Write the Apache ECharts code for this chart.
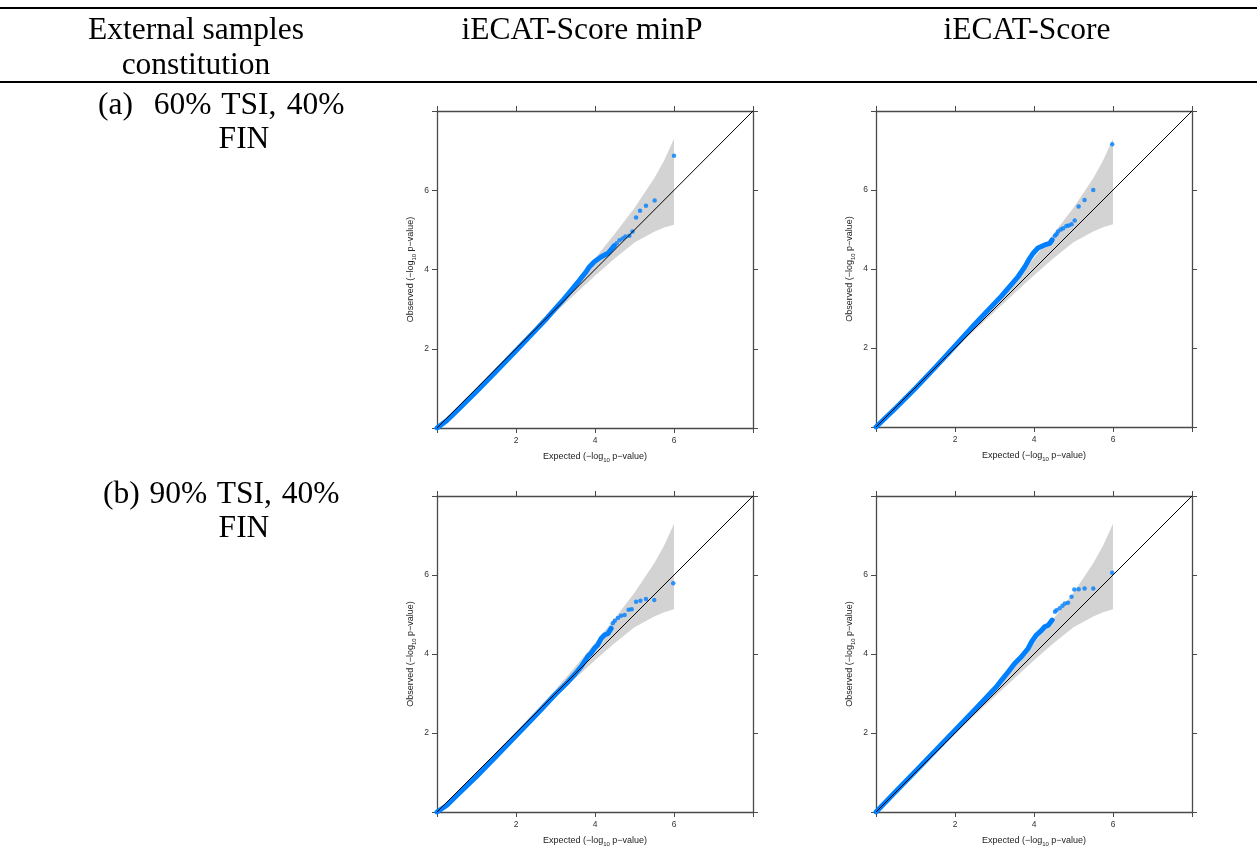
<!DOCTYPE html>
<html>
<head>
<meta charset="utf-8">
<title>QQ plots of iECAT-Score tests</title>
<script src="https://cdn.jsdelivr.net/npm/echarts@6/dist/echarts.min.js"></script>
<style>
  html, body { margin: 0; padding: 0; background: #fff; }
  #page { position: relative; width: 1257px; height: 853px; overflow: hidden; }
  #chart { position: absolute; left: 0; top: 0; width: 1257px; height: 853px; }
  .rule { position: absolute; left: 0; width: 1257px; height: 2px; background: #000; }
  .cell {
    position: absolute; white-space: pre; color: #000;
    font-family: "Liberation Serif", "Times New Roman", serif;
    font-size: 31.5px; line-height: 35px;
  }
  .center { text-align: center; }
</style>
</head>
<body>
<div id="page">
  <div id="chart"></div>
  <div class="rule" style="top:7px"></div>
  <div class="rule" style="top:81px"></div>
  <div class="cell center" style="left:46px; top:11px; width:300px">External samples<br>constitution</div>
  <div class="cell center" style="left:432px; top:11px; width:300px">iECAT-Score minP</div>
  <div class="cell center" style="left:877px; top:11px; width:300px">iECAT-Score</div>
  <div class="cell" style="left:98px; top:86px; word-spacing:2.5px">(a)  60% TSI, 40%</div>
  <div class="cell center" style="left:144px; top:120px; width:200px">FIN</div>
  <div class="cell" style="left:103px; top:475px; word-spacing:2px">(b) 90% TSI, 40%</div>
  <div class="cell center" style="left:144px; top:509px; width:200px">FIN</div>
</div>
<script>
// Axis ticks (both axes run 0..8, labels only on the inner ticks)
const axisTicks = [0, 2, 4, 6, 8];
const tickLabels = ['2', '4', '6'];

// 95% confidence band of the uniform QQ plot (shared by all panels)
const bandX  = [0, 1, 2, 2.5, 3, 3.5, 4, 4.5, 5, 5.5, 5.75, 6];
const bandLo = [0, 0.99, 1.97, 2.45, 2.92, 3.38, 3.84, 4.28, 4.68, 4.95, 5.06, 5.13];
const bandHi = [0, 1.01, 2.03, 2.56, 3.1, 3.68, 4.28, 4.9, 5.55, 6.3, 6.75, 7.3];

// (a) 60% TSI, 40% FIN — iECAT-Score minP
const obsA_minP = [[0,0],[0.25,0.19],[0.5,0.43],[1,0.92],[1.5,1.43],[2,1.95],[2.5,2.47],[2.8,2.79],[3,3.02],[3.2,3.24],[3.35,3.42],[3.5,3.6],[3.6,3.72],[3.7,3.85],[3.78,3.95],[3.86,4.07],[3.99,4.2],[4.16,4.32],[4.33,4.41],[4.49,4.6]];
const tailA_minP = [[4.55,4.66],[4.62,4.74],[4.7,4.78],[4.77,4.83],[4.87,4.85],[4.95,4.96],[5.04,5.31],[5.14,5.48],[5.29,5.61],[5.51,5.74],[6.0,6.87]];

// (a) 60% TSI, 40% FIN — iECAT-Score
const obsA_score = [[0,0],[0.5,0.48],[1,0.98],[1.5,1.51],[2,2.05],[2.5,2.6],[3,3.13],[3.18,3.32],[3.43,3.61],[3.6,3.81],[3.77,4.06],[3.89,4.27],[3.98,4.4],[4.1,4.53],[4.27,4.61],[4.4,4.65],[4.46,4.74]];
const tailA_score = [[4.53,4.84],[4.57,4.88],[4.61,4.95],[4.68,5.0],[4.74,5.03],[4.82,5.09],[4.88,5.1],[4.95,5.13],[5.03,5.23],[5.13,5.58],[5.28,5.75],[5.5,6.0],[5.98,7.16]];

// (b) 90% TSI, 40% FIN — iECAT-Score minP
const obsB_minP = [[0,0],[0.25,0.17],[0.5,0.42],[1,0.9],[1.5,1.41],[2,1.93],[2.5,2.45],[3,2.98],[3.32,3.3],[3.5,3.5],[3.65,3.68],[3.82,3.94],[3.9,4.02],[3.99,4.15],[4.07,4.23],[4.16,4.4],[4.24,4.48],[4.33,4.52],[4.41,4.65]];
const tailB_minP = [[4.45,4.78],[4.5,4.84],[4.58,4.91],[4.66,4.97],[4.75,4.99],[4.85,5.12],[4.93,5.13],[5.04,5.32],[5.15,5.35],[5.29,5.39],[5.5,5.37],[5.98,5.79]];

// (b) 90% TSI, 40% FIN — iECAT-Score
const obsB_score = [[0,0],[0.5,0.52],[1,1.03],[1.5,1.55],[2,2.07],[2.5,2.59],[3.05,3.17],[3.18,3.34],[3.35,3.55],[3.51,3.76],[3.68,3.93],[3.85,4.14],[3.94,4.31],[4.06,4.48],[4.19,4.6],[4.27,4.69],[4.36,4.73],[4.46,4.86]];
const tailB_score = [[4.53,5.07],[4.57,5.11],[4.65,5.16],[4.72,5.22],[4.78,5.28],[4.86,5.3],[4.95,5.45],[5.02,5.63],[5.13,5.64],[5.28,5.66],[5.5,5.66],[5.98,6.06]];

const panels = [
  { box: { left: 437, top: 111, width: 316, height: 317 }, obs: obsA_minP,  tail: tailA_minP },
  { box: { left: 876, top: 111, width: 316, height: 316 }, obs: obsA_score, tail: tailA_score },
  { box: { left: 437, top: 496, width: 316, height: 316 }, obs: obsB_minP,  tail: tailB_minP },
  { box: { left: 876, top: 496, width: 316, height: 316 }, obs: obsB_score, tail: tailB_score }
];

const POINT_BLUE = '#0080ff';
const BOX_GREY = '#4a4a4a';

const nameRich = {
  t: { fontSize: 9, color: '#222', fontFamily: 'Liberation Sans, Arial, sans-serif', lineHeight: 11, padding: [0, 0, 3, 0] },
  s: { fontSize: 6, color: '#222', fontFamily: 'Liberation Sans, Arial, sans-serif', lineHeight: 8, padding: [5, 0, 1, 0] }
};
const xTitle = '{t|Expected (\u2212log}{s|10}{t| p\u2212value)}';
const yTitle = '{t|Observed (\u2212log}{s|10}{t| p\u2212value)}';

function labelText(v) {
  const s = String(v);
  return tickLabels.indexOf(s) >= 0 ? s : '';
}

function makeAxis(g, position, labeled, title, gap) {
  return {
    type: 'value', gridIndex: g, position: position,
    min: axisTicks[0], max: axisTicks[axisTicks.length - 1], interval: 2,
    axisLine: { show: true, onZero: false, lineStyle: { color: BOX_GREY, width: 1.3 } },
    axisTick: { show: true, inside: false, length: 5, lineStyle: { color: BOX_GREY, width: 1 } },
    axisLabel: {
      show: labeled, fontSize: 8.5, color: '#333', margin: 8,
      fontFamily: 'Liberation Sans, Arial, sans-serif', formatter: labelText
    },
    splitLine: { show: false },
    name: labeled ? title : '',
    nameLocation: 'middle', nameGap: gap || 25,
    nameTextStyle: { rich: nameRich }
  };
}

const grids = [], xAxes = [], yAxes = [], series = [];
panels.forEach((p, g) => {
  grids.push(Object.assign({ containLabel: false }, p.box));
  xAxes.push(makeAxis(g, 'bottom', true, xTitle, 25));
  xAxes.push(makeAxis(g, 'top', false, ''));
  yAxes.push(makeAxis(g, 'left', true, yTitle, 19));
  yAxes.push(makeAxis(g, 'right', false, ''));
  const xi = 2 * g, yi = 2 * g;

  // confidence band as one polygon: upper edge out, lower edge back
  series.push({
    type: 'custom', xAxisIndex: xi, yAxisIndex: yi, silent: true, z: 1,
    data: bandX.map((x, i) => [x, bandLo[i], bandHi[i]]),
    renderItem: function (params, api) {
      if (params.dataIndex !== 0) return null;
      const pts = [];
      for (let i = 0; i < bandX.length; i++) pts.push(api.coord([bandX[i], bandHi[i]]));
      for (let i = bandX.length - 1; i >= 0; i--) pts.push(api.coord([bandX[i], bandLo[i]]));
      return { type: 'polygon', shape: { points: pts }, style: { fill: '#d3d3d3' } };
    }
  });
  // dense body of the observed p-values
  series.push({
    type: 'line', xAxisIndex: xi, yAxisIndex: yi, data: p.obs, symbol: 'none', z: 3,
    lineStyle: { color: POINT_BLUE, width: 5, cap: 'round', join: 'round' }
  });
  // sparse upper tail points
  series.push({
    type: 'scatter', xAxisIndex: xi, yAxisIndex: yi, data: p.tail, symbolSize: 4.5, z: 3,
    itemStyle: { color: POINT_BLUE }
  });
  // y = x reference line
  series.push({
    type: 'line', xAxisIndex: xi, yAxisIndex: yi, data: [[0, 0], [8, 8]], symbol: 'none', z: 4,
    lineStyle: { color: '#000', width: 1 }
  });
});

const chart = echarts.init(document.getElementById('chart'), null, { renderer: 'canvas' });
chart.setOption({
  animation: false,
  backgroundColor: '#fff',
  grid: grids,
  xAxis: xAxes,
  yAxis: yAxes,
  series: series
});
</script>
</body>
</html>
